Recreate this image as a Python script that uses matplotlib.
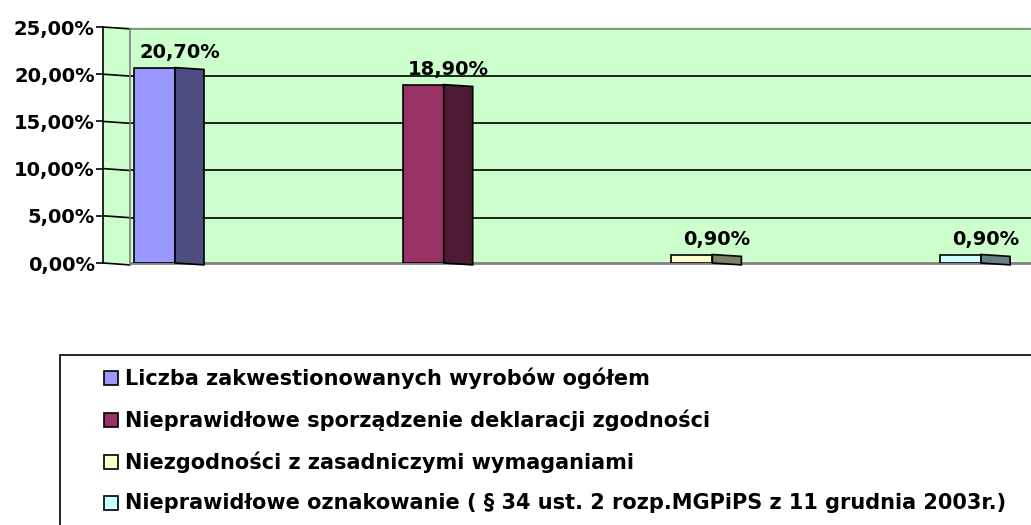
import matplotlib
matplotlib.use("Agg")
import matplotlib.pyplot as plt
from matplotlib.patches import Rectangle, Polygon
from matplotlib.ticker import FuncFormatter

# the original text is a horizontally stretched Arial; DejaVu Sans Bold has about that width
plt.rcParams["font.family"] = ["DejaVu Sans"]
plt.rcParams["font.weight"] = "bold"

series_labels = [
    "Liczba zakwestionowanych wyrobów ogółem",
    "Nieprawidłowe sporządzenie deklaracji zgodności",
    "Niezgodności z zasadniczymi wymaganiami",
    "Nieprawidłowe oznakowanie ( § 34 ust. 2 rozp.MGPiPS z 11 grudnia 2003r.)",
]
values = [20.70, 18.90, 0.90, 0.90]
front_colors = ["#9999FF", "#993366", "#FFFFCC", "#CCFFFF"]
side_colors = ["#4D4D80", "#4D1A33", "#808066", "#668080"]
y_ticks = [0, 5, 10, 15, 20, 25]

W, H = 1031, 525
fig = plt.figure(figsize=(W / 100, H / 100), dpi=100)

# axes placed in pixel terms: y axis at x=103, 0% at y=263, 25% at y=27
ax = fig.add_axes([103 / W, (H - 263) / H, (W - 103) / W, (263 - 27) / H])
ax.set_ylim(0, 25)
x_left = (103 - 169) / 268.7
x_right = (W - 169) / 268.7
x_wall = (130 - 169) / 268.7
ax.set_xlim(x_left, x_right)
ax.set_facecolor("#CCFFCC")

pct = lambda v, _=None: f"{v:.2f}%".replace(".", ",")
ax.set_yticks(y_ticks)
ax.yaxis.set_major_formatter(FuncFormatter(pct))
ax.tick_params(axis="y", length=5, width=1.2, pad=1, labelsize=14)
ax.set_xticks([])
for side in ["top", "right", "bottom"]:
    ax.spines[side].set_visible(False)
ax.spines["left"].set_linewidth(1.2)

# gridlines: slanted across the side wall, flat across the back wall
slant = 0.2
for t in y_ticks:
    ax.plot([x_left, x_wall], [t, t - slant], color="black", lw=1.2, clip_on=False)
    if 0 < t < 25:
        ax.plot([x_wall, x_right], [t - slant, t - slant], color="black", lw=1.2)
ax.plot([x_wall, x_right], [25 - slant, 25 - slant], color="#808080", lw=1.2, clip_on=False)
ax.plot([x_wall, x_right], [0, 0], color="#808080", lw=2, clip_on=False)
ax.plot([x_wall, x_wall], [-slant, 25 - slant], color="#808080", lw=1.2)

# 3D-looking bars
front_w = 41 / 268.7
side_w = 29 / 268.7
for i, v in enumerate(values):
    x0 = i - (front_w + side_w) / 2
    ax.add_patch(Rectangle((x0, 0), front_w, v, facecolor=front_colors[i],
                           edgecolor="black", lw=1.2, zorder=3))
    xs = x0 + front_w
    ax.add_patch(Polygon([(xs, 0), (xs + side_w, -slant), (xs + side_w, v - slant), (xs, v)],
                         closed=True, facecolor=side_colors[i], edgecolor="black",
                         lw=1.2, zorder=3, clip_on=False))
    ax.text(i + 0.04, v + 0.55, pct(v), ha="center", va="bottom", fontsize=14,
            fontweight="bold", zorder=4)

# legend box, running off the right and bottom edges
fig.patches.append(Rectangle((60 / W, -0.05), 1.0, (H - 355) / H + 0.05,
                             transform=fig.transFigure, facecolor="white",
                             edgecolor="black", lw=1.2))
row_y = [378, 420, 462, 503]
for lab, col, y in zip(series_labels, front_colors, row_y):
    fig.patches.append(Rectangle((104 / W, (H - y - 7) / H), 14 / W, 14 / H,
                                 transform=fig.transFigure, facecolor=col,
                                 edgecolor="black", lw=1.2))
    fig.text(125 / W, (H - y) / H, lab, ha="left", va="center", fontsize=15,
             fontweight="bold")

fig.savefig("out.png", dpi=100)
